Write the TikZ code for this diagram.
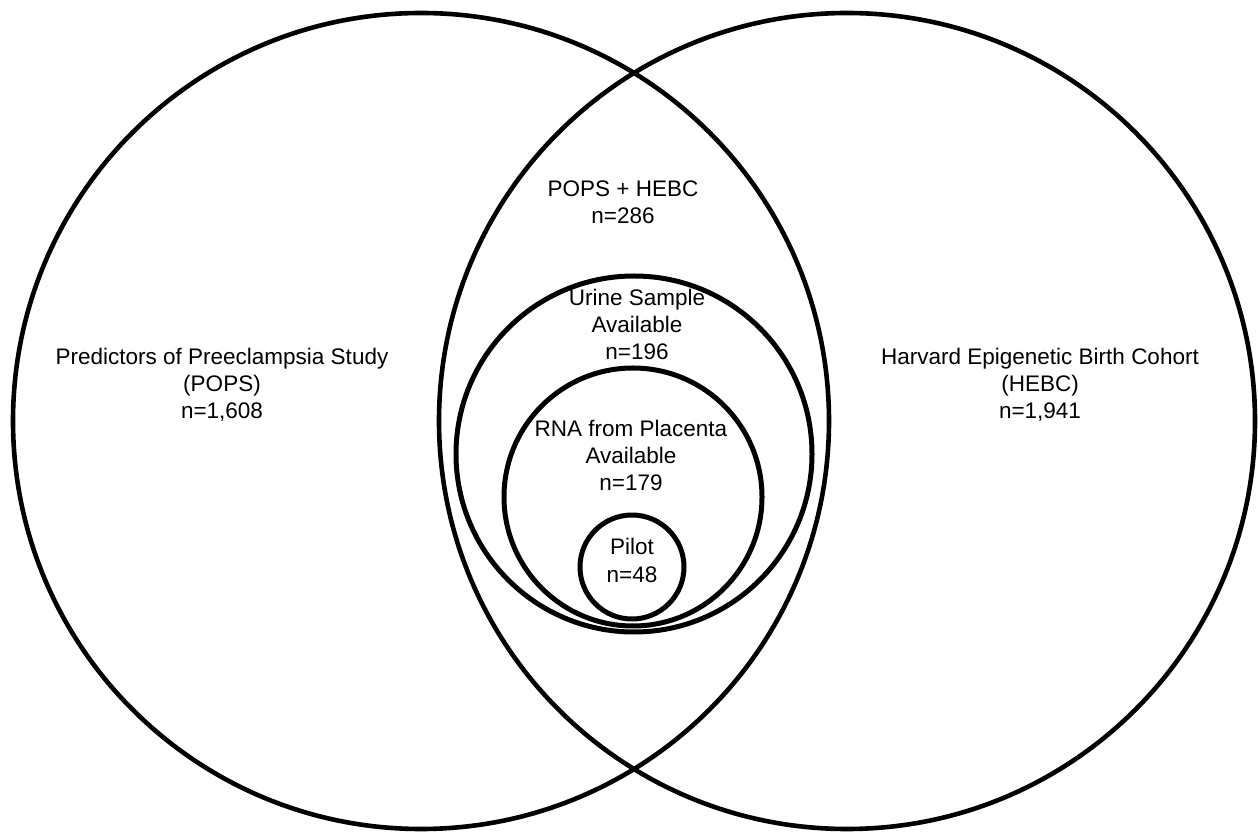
\documentclass[tikz,border=0pt]{standalone}
\usepackage{fontspec}
\setmainfont{Liberation Sans}
\newcommand\lblfont{\fontsize{11.25}{13.6}\selectfont}
\begin{document}
\begin{tikzpicture}[x=0.5pt,y=-0.5pt,line cap=round,line join=round,font=\lblfont]
	\tikzset{ring/.style={line width=2.3pt},
		inring/.style={line width=2.5pt},
		lbl/.style={align=center,anchor=base,inner sep=0pt}}
	\useasboundingbox (0,0) rectangle (1258,833);
	% the two cohorts
	\foreach \x in{421,847}{\draw[ring] (\x,421) circle (408);}
	% nested subsets
	\foreach \x/\y/\r in{634/454/178,633/497/129,632/567/52}{\draw[inring] (\x,\y) circle (\r);}
	% labels, placed at the baseline of their last line
	\node[lbl] (pops) at (222,419) {Predictors of Preeclampsia Study\\(POPS)\\n=1,608};
	\node[lbl] (hebc) at (1040,419) {Harvard Epigenetic Birth Cohort\\(HEBC)\\n=1,941};
	\node[lbl] (both) at (623,224) {POPS + HEBC\\n=286};
	\node[lbl] (urine) at (637,360) {Urine Sample\\Available\\n=196};
	\node[lbl] (rna) at (631,491) {RNA from Placenta\\Available\\n=179};
	\node[lbl] (pilot) at (632,582) {Pilot\\n=48};
\end{tikzpicture}
\end{document}
